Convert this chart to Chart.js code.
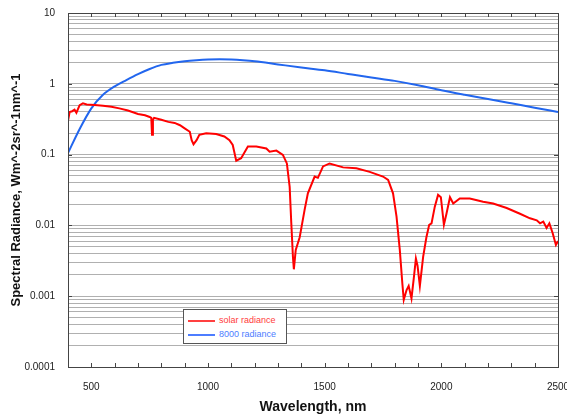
<!DOCTYPE html>
<html>
<head>
<meta charset="utf-8">
<script src="https://cdn.jsdelivr.net/npm/chart.js@4"></script>
<style>
  body { margin: 0; background: #fff; }
  #wrap { position: relative; width: 567px; height: 417px; }
  #legend {
    position: absolute; left: 183px; top: 309px; width: 102px; height: 33px;
    border: 1px solid #555; background: #fff;
    font: 9px Arial, "Liberation Sans", sans-serif;
  }
  #legend div { position: absolute; left: 4px; height: 10px; line-height: 10px; white-space: nowrap; }
  #legend span.ln { display: inline-block; width: 27px; height: 2px; vertical-align: middle; margin-right: 4px; }
</style>
</head>
<body>
<div id="wrap">
  <canvas id="chart" width="567" height="417"></canvas>
  <div id="legend">
    <div style="top:5px;color:#ff3b3b"><span class="ln" style="background:#ff4040"></span>solar radiance</div>
    <div style="top:19px;color:#4d7dff"><span class="ln" style="background:#4d7dff"></span>8000 radiance</div>
  </div>
</div>
<script>
// solar radiance (red)
const solarWl = [400, 407, 418, 428, 436, 450, 464, 480, 514, 550, 586, 620, 657, 700, 730, 750, 757, 760, 764, 769,
  800, 830, 857, 880, 900, 922, 930, 938, 951, 963, 992, 1035, 1070, 1092, 1106, 1121, 1142, 1171, 1207, 1250,
  1264, 1293, 1321, 1338, 1350, 1357, 1364, 1368, 1376, 1393, 1414, 1428, 1457, 1471, 1493, 1521, 1579, 1636,
  1693, 1750, 1772, 1793, 1808, 1822, 1833, 1839, 1851, 1860, 1872, 1882, 1891, 1898, 1908, 1922, 1936, 1948,
  1958, 1972, 1986, 1998, 2011, 2022, 2037, 2051, 2079, 2122, 2179, 2222, 2280, 2337, 2380, 2409, 2423, 2437,
  2451, 2463, 2477, 2491, 2500];
const solarRad = [0.30, 0.40, 0.41, 0.43, 0.39, 0.50, 0.53, 0.51, 0.50, 0.49, 0.475, 0.45, 0.42, 0.375, 0.36, 0.34, 0.33, 0.19, 0.31, 0.33,
  0.31, 0.29, 0.28, 0.26, 0.235, 0.21, 0.16, 0.14, 0.16, 0.19, 0.20, 0.195, 0.18, 0.16, 0.137, 0.082, 0.089, 0.13, 0.13, 0.122,
  0.11, 0.114, 0.099, 0.075, 0.035, 0.0107, 0.0036, 0.0024, 0.0045, 0.0068, 0.0166, 0.0284, 0.049, 0.047, 0.068, 0.075, 0.066, 0.064,
  0.057, 0.049, 0.044, 0.0284, 0.0133, 0.0045, 0.0015, 0.00089, 0.00122, 0.0014, 0.00093, 0.0018, 0.0034, 0.0027, 0.0014, 0.0036, 0.0068, 0.0102,
  0.0107, 0.0184, 0.027, 0.025, 0.0102, 0.0146, 0.025, 0.0204, 0.024, 0.024, 0.0216, 0.0204, 0.0176, 0.0146, 0.0126, 0.0118, 0.0107, 0.0113,
  0.0092, 0.0107, 0.0078, 0.0053, 0.006];

// 8000 radiance (blue)
const bbWl = [400, 450, 500, 550, 600, 650, 700, 750, 800, 850, 900, 950, 1000, 1050, 1100, 1150, 1200, 1300, 1400,
  1500, 1600, 1700, 1800, 1900, 2000, 2100, 2200, 2300, 2400, 2500];
const bbRad = [0.105, 0.23, 0.45, 0.70, 0.92, 1.13, 1.37, 1.62, 1.85, 1.98, 2.08, 2.15, 2.2, 2.22, 2.2, 2.15, 2.08, 1.88, 1.70,
  1.55, 1.38, 1.23, 1.10, 0.955, 0.81, 0.70, 0.61, 0.53, 0.46, 0.40];

const yTickValues = [0.0001, 0.001, 0.01, 0.1, 1, 10];
const yTickLabels = ["0.0001", "0.001", "0.01", "0.1", "1", "10"];
const xTickLabels = [500, 1000, 1500, 2000, 2500];

const FONT = "Arial, 'Liberation Sans', sans-serif";

const frame = {
  id: "frame",
  afterDraw(chart) {
    const { ctx, chartArea: a, scales: { x, y } } = chart;
    ctx.save();
    ctx.strokeStyle = "#444";
    ctx.lineWidth = 1;
    ctx.beginPath();
    for (let v = 500; v < 2500; v += 100) {
      const px = Math.round(x.getPixelForValue(v)) + 0.5;
      ctx.moveTo(px, a.bottom); ctx.lineTo(px, a.bottom - 4);
      ctx.moveTo(px, a.top); ctx.lineTo(px, a.top + 4);
    }
    yTickValues.forEach(v => {
      const py = Math.round(y.getPixelForValue(v)) + 0.5;
      ctx.moveTo(a.left, py); ctx.lineTo(a.left + 4, py);
      ctx.moveTo(a.right, py); ctx.lineTo(a.right - 4, py);
    });
    ctx.stroke();
    ctx.strokeRect(Math.round(a.left) + 0.5, Math.round(a.top) + 0.5,
      Math.round(a.right - a.left), Math.round(a.bottom - a.top));
    ctx.restore();
  }
};

new Chart(document.getElementById("chart"), {
  type: "line",
  data: {
    datasets: [
      {
        label: "solar radiance",
        data: solarWl.map((w, i) => ({ x: w, y: solarRad[i] })),
        borderColor: "#ff0000",
        borderWidth: 2,
        pointRadius: 0
      },
      {
        label: "8000 radiance",
        data: bbWl.map((w, i) => ({ x: w, y: bbRad[i] })),
        borderColor: "#2266ee",
        borderWidth: 2,
        pointRadius: 0,
        cubicInterpolationMode: "monotone"
      }
    ]
  },
  options: {
    responsive: false,
    animation: false,
    layout: { padding: { top: 13, right: 9, left: 0, bottom: 0 } },
    plugins: { legend: { display: false }, tooltip: { enabled: false } },
    scales: {
      x: {
        type: "linear",
        min: 400,
        max: 2500,
        afterFit: s => { s.height = 50; s.paddingRight = 0; s.paddingLeft = 0; },
        grid: { display: false },
        border: { display: false },
        ticks: {
          stepSize: 100,
          autoSkip: false,
          maxRotation: 0,
          padding: 6,
          color: "#222",
          font: { family: FONT, size: 10 },
          callback: v => (xTickLabels.includes(v) ? String(v) : "")
        },
        title: {
          display: true,
          text: "Wavelength, nm",
          color: "#111",
          padding: { top: 0, bottom: 1 },
          font: { family: FONT, size: 14, weight: "bold" }
        }
      },
      y: {
        type: "logarithmic",
        min: 0.0001,
        max: 10,
        afterFit: s => { s.width = 68; s.paddingTop = 0; s.paddingBottom = 0; },
        afterBuildTicks: s => {
          const t = [];
          yTickValues.slice(0, -1).forEach(d => {
            for (let m = 1; m < 10; m++) t.push({ value: m * d });
          });
          t.push({ value: 10 });
          s.ticks = t;
        },
        grid: { color: "#b0b0b0", lineWidth: 1, drawTicks: false },
        border: { display: false },
        ticks: {
          autoSkip: false,
          padding: 13,
          color: "#222",
          font: { family: FONT, size: 10 },
          callback: v => {
            const i = yTickValues.findIndex(t => Math.abs(t - v) / t < 1e-6);
            return i >= 0 ? yTickLabels[i] : "";
          }
        },
        title: {
          display: true,
          text: "Spectral Radiance, Wm^-2sr^-1nm^-1",
          color: "#111",
          padding: { top: 9, bottom: 0 },
          font: { family: FONT, size: 13, weight: "bold" }
        }
      }
    }
  },
  plugins: [frame]
});
</script>
</body>
</html>
